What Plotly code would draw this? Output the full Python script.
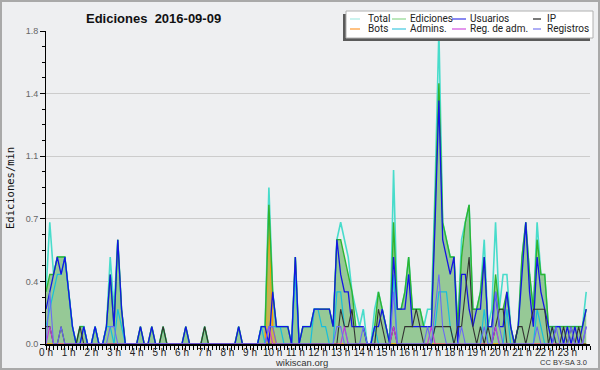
import plotly.graph_objects as go

# 10-minute slots over one day (minutes since 00:00)
minutes = list(range(0, 1440, 10))
hour_labels = [f"{h} h" for h in range(24)]
y_tick_values = [0, 0.36, 0.72, 1.08, 1.44, 1.8]
y_tick_labels = ["0.0", "0.4", "0.7", "1.1", "1.4", "1.8"]

total = [
    0.3, 0.7, 0.4, 0.5, 0.5, 0.5,
    0.3, 0.1, 0, 0.1, 0.1, 0,
    0, 0.1, 0, 0, 0.1, 0.5,
    0.2, 0.6, 0.2, 0, 0, 0,
    0, 0.1, 0, 0, 0.1, 0,
    0, 0.1, 0, 0, 0, 0,
    0, 0.1, 0, 0, 0, 0,
    0.1, 0, 0, 0, 0, 0,
    0, 0, 0, 0.1, 0, 0,
    0, 0, 0, 0.1, 0.1, 0.9,
    0.3, 0.1, 0.1, 0.1, 0.1, 0,
    0.5, 0, 0.1, 0.1, 0.1, 0.2,
    0.2, 0.2, 0.2, 0.2, 0.1, 0.6,
    0.7, 0.6, 0.5, 0.3, 0.2, 0.1,
    0.2, 0, 0, 0.2, 0.3, 0.2,
    0.1, 0, 1.0, 0.2, 0.2, 0.3,
    0.5, 0.2, 0.2, 0.2, 0.1, 0.2,
    0.2, 0.9, 1.8, 0.7, 0.6, 0.5,
    0.5, 0.1, 0.6, 0.7, 0.8, 0.2,
    0.2, 0.3, 0.6, 0.1, 0.2, 0.7,
    0.2, 0.4, 0.4, 0.1, 0, 0.1,
    0.5, 0.7, 0.4, 0.2, 0.7, 0.4,
    0.4, 0.1, 0.1, 0.1, 0.1, 0.1,
    0.1, 0.1, 0.1, 0.1, 0.1, 0.3,
]

ediciones = [
    0.3, 0.4, 0.4, 0.5, 0.5, 0.5,
    0.3, 0.1, 0, 0.1, 0.1, 0,
    0, 0.1, 0, 0, 0.1, 0.4,
    0.1, 0.6, 0.2, 0, 0, 0,
    0, 0.1, 0, 0, 0.1, 0,
    0, 0.1, 0, 0, 0, 0,
    0, 0.1, 0, 0, 0, 0,
    0.1, 0, 0, 0, 0, 0,
    0, 0, 0, 0.1, 0, 0,
    0, 0, 0, 0.1, 0.1, 0.8,
    0.3, 0.1, 0.1, 0.1, 0.1, 0,
    0.5, 0, 0.1, 0.1, 0.1, 0.2,
    0.2, 0.2, 0.2, 0.2, 0.1, 0.6,
    0.6, 0.5, 0.4, 0.3, 0.1, 0.1,
    0.1, 0, 0, 0.1, 0.3, 0.2,
    0.1, 0, 0.7, 0.2, 0.2, 0.3,
    0.5, 0.2, 0.2, 0.2, 0.1, 0.1,
    0.1, 0.8, 1.5, 0.7, 0.6, 0.5,
    0.5, 0.1, 0.5, 0.7, 0.8, 0.2,
    0.2, 0.3, 0.5, 0.1, 0.1, 0.4,
    0.2, 0.2, 0.3, 0.1, 0, 0.1,
    0.5, 0.7, 0.4, 0.2, 0.6, 0.4,
    0.4, 0.1, 0.1, 0.1, 0.1, 0.1,
    0.1, 0.1, 0.1, 0.1, 0.1, 0.2,
]

usuarios = [
    0.2, 0.3, 0.4, 0.5, 0.4, 0.5,
    0.3, 0.1, 0, 0, 0.1, 0,
    0, 0.1, 0, 0, 0.1, 0.4,
    0.1, 0.6, 0.2, 0, 0, 0,
    0, 0.1, 0, 0, 0.1, 0,
    0, 0, 0, 0, 0, 0,
    0, 0.1, 0, 0, 0, 0,
    0, 0, 0, 0, 0, 0,
    0, 0, 0, 0.1, 0, 0,
    0, 0, 0, 0.1, 0.1, 0,
    0.3, 0.1, 0.1, 0.1, 0.1, 0,
    0.5, 0, 0.1, 0.1, 0.1, 0.2,
    0.2, 0.2, 0.2, 0.2, 0.1, 0.6,
    0.4, 0.3, 0.3, 0.1, 0.1, 0.1,
    0.1, 0, 0, 0.1, 0.1, 0.2,
    0.1, 0, 0.5, 0.2, 0.2, 0.2,
    0.4, 0.1, 0.1, 0.1, 0.1, 0.1,
    0.1, 0.7, 1.4, 0.6, 0.5, 0.4,
    0.5, 0, 0.4, 0.4, 0.2, 0.1,
    0.2, 0.2, 0.5, 0.1, 0.1, 0.3,
    0.1, 0.1, 0.3, 0.1, 0, 0.1,
    0.4, 0.7, 0.3, 0.1, 0.5, 0.3,
    0.2, 0.1, 0, 0.1, 0.1, 0,
    0.1, 0, 0.1, 0, 0.1, 0.2,
]

ip = [
    0.1, 0.1, 0, 0, 0.1, 0,
    0, 0, 0, 0.1, 0, 0,
    0, 0, 0, 0, 0, 0,
    0, 0, 0, 0, 0, 0,
    0, 0, 0, 0, 0, 0,
    0, 0.1, 0, 0, 0, 0,
    0, 0, 0, 0, 0, 0,
    0.1, 0, 0, 0, 0, 0,
    0, 0, 0, 0, 0, 0,
    0, 0, 0, 0, 0, 0,
    0, 0, 0, 0, 0, 0,
    0, 0, 0, 0, 0, 0,
    0, 0, 0, 0, 0, 0,
    0.2, 0.1, 0.1, 0.2, 0, 0,
    0, 0, 0, 0, 0.2, 0.1,
    0, 0, 0.1, 0, 0, 0.1,
    0.1, 0.1, 0.2, 0.1, 0, 0,
    0, 0.1, 0.1, 0.1, 0.1, 0.1,
    0, 0.1, 0.1, 0.3, 0.5, 0.1,
    0, 0.1, 0, 0.1, 0, 0.1,
    0.2, 0.2, 0, 0, 0, 0.1,
    0.1, 0, 0.1, 0.2, 0.2, 0.2,
    0.2, 0, 0.1, 0, 0, 0.1,
    0, 0.1, 0, 0.1, 0, 0,
]

bots = [0] * 58 + [0, 0.8, 0.1] + [0] * 83

admins = [
    0.1, 0.2, 0.3, 0.4, 0.4, 0.5,
    0.3, 0.1, 0, 0, 0.1, 0,
    0, 0.1, 0, 0, 0.1, 0.1,
    0, 0.2, 0.1, 0, 0, 0,
    0, 0, 0, 0, 0, 0,
    0, 0, 0, 0, 0, 0,
    0, 0, 0, 0, 0, 0,
    0, 0, 0, 0, 0, 0,
    0, 0, 0, 0, 0, 0,
    0, 0, 0, 0.1, 0, 0.1,
    0.1, 0.1, 0.1, 0, 0, 0,
    0.4, 0, 0, 0, 0, 0.2,
    0.2, 0.1, 0.1, 0, 0, 0.3,
    0.3, 0.1, 0, 0, 0, 0,
    0, 0, 0, 0.1, 0, 0,
    0, 0, 0.4, 0, 0, 0,
    0, 0, 0, 0, 0, 0,
    0, 0.1, 0.3, 0.3, 0.3, 0.1,
    0, 0, 0, 0, 0, 0,
    0, 0, 0.2, 0, 0, 0.1,
    0, 0, 0.2, 0, 0, 0,
    0, 0, 0, 0, 0.2, 0.1,
    0, 0, 0.1, 0, 0, 0,
    0, 0, 0, 0, 0, 0.1,
]

reg_adm = [0] * 144
for _i in (1, 59, 79, 92, 102, 119, 143):
    reg_adm[_i] = 0.1

registros = [0] * 144
for _i, _v in ((1, 0.3), (4, 0.1), (17, 0.1), (18, 0.1), (59, 0.1), (60, 0.1),
               (77, 0.1), (78, 0.1), (84, 0.1), (92, 0.3), (101, 0.1), (103, 0.2),
               (104, 0.4), (105, 0.1), (110, 0.1), (116, 0.1), (119, 0.3), (120, 0.1),
               (130, 0.1), (135, 0.1), (139, 0.1), (143, 0.1)):
    registros[_i] = _v

x = [m / 60 for m in minutes]

C_TOTAL = "#48dccb"
C_ED = "#2fb42f"
C_USU = "#1414e6"
C_IP = "#333333"
C_BOTS = "#ff9a00"
C_ADM = "#18bedc"
C_REGADM = "#c838d8"
C_REG = "#6a6af4"

fig = go.Figure()
fig.add_trace(go.Scatter(x=x, y=ediciones, mode="lines", line=dict(width=0, color=C_ED),
                         fill="tozeroy", fillcolor="#96c996", hoverinfo="skip"))
fig.add_trace(go.Scatter(x=x, y=bots, mode="lines", line=dict(width=1.5, color=C_BOTS),
                         fill="tozeroy", fillcolor="rgba(255,154,0,0.45)", name="Bots"))
fig.add_trace(go.Scatter(x=x, y=total, mode="lines", line=dict(width=1.6, color=C_TOTAL), name="Total"))
fig.add_trace(go.Scatter(x=x, y=ediciones, mode="lines", line=dict(width=1.4, color=C_ED), name="Ediciones"))
fig.add_trace(go.Scatter(x=x, y=admins, mode="lines", line=dict(width=1.2, color=C_ADM), name="Admins."))
fig.add_trace(go.Scatter(x=x, y=usuarios, mode="lines", line=dict(width=1.3, color=C_USU), name="Usuarios"))
fig.add_trace(go.Scatter(x=x, y=ip, mode="lines", line=dict(width=1.1, color=C_IP), name="IP"))
fig.add_trace(go.Scatter(x=x, y=reg_adm, mode="lines", line=dict(width=1.1, color=C_REGADM), name="Reg. de adm."))
fig.add_trace(go.Scatter(x=x, y=registros, mode="lines", line=dict(width=1.1, color=C_REG), name="Registros"))

W, H = 600, 370
L, R, T, B = 46, 10, 31, 26
PW, PH = W - L - R, H - T - B


def px(xp):
    return (xp - L) / PW


def py(yp):
    return (H - B - yp) / PH


shapes = []
annotations = []

# outer border
shapes.append(dict(type="rect", xref="paper", yref="paper", x0=px(1), x1=px(599), y0=py(369), y1=py(1),
                   line=dict(color="#a9a9a9", width=2), fillcolor="rgba(0,0,0,0)", layer="above"))

# legend box with shadow
shapes.append(dict(type="rect", xref="paper", yref="paper", x0=px(343), x1=px(590), y0=py(41), y1=py(14),
                   line=dict(width=0), fillcolor="#5a5a5a", layer="above"))
shapes.append(dict(type="rect", xref="paper", yref="paper", x0=px(346), x1=px(593), y0=py(38), y1=py(11),
                   line=dict(color="#b0b0b0", width=1), fillcolor="#ffffff", layer="above"))

legend_items = [
    ("Total", "#a8ece4", 350, 360, 366, 19),
    ("Ediciones", "#8ed88e", 392, 406, 408, 19),
    ("Usuarios", "#3a3ae8", 452, 466, 468, 19),
    ("IP", "#222222", 533, 541, 545, 19),
    ("Bots", "#ff9a30", 350, 360, 366, 29),
    ("Admins.", "#40c8e0", 392, 406, 408, 29),
    ("Reg. de adm.", "#d050e0", 452, 466, 468, 29),
    ("Registros", "#7878f0", 533, 541, 545, 29),
]
for name, col, lx0, lx1, tx, ty in legend_items:
    shapes.append(dict(type="line", xref="paper", yref="paper", x0=px(lx0), x1=px(lx1), y0=py(ty), y1=py(ty),
                       line=dict(color=col, width=1.2), layer="above"))
    annotations.append(dict(text=name, xref="paper", yref="paper", x=px(tx), y=py(ty), xanchor="left",
                            yanchor="middle", showarrow=False,
                            font=dict(family="Roboto", size=10, color="#222222")))

annotations.append(dict(text="Ediciones\u00a0 2016-09-09", xref="paper", yref="paper", x=px(153), y=py(18),
                        xanchor="center", yanchor="middle", showarrow=False,
                        font=dict(family="Liberation Sans", size=13, color="#111111", weight="bold")))
annotations.append(dict(text="Ediciones/min", xref="paper", yref="paper", x=px(10), y=py(188),
                        xanchor="center", yanchor="middle", textangle=-90, showarrow=False,
                        font=dict(family="DejaVu Sans Mono", size=10.5, color="#111111")))
annotations.append(dict(text="wikiscan.org", xref="paper", yref="paper", x=px(301), y=py(362),
                        xanchor="center", yanchor="middle", showarrow=False,
                        font=dict(family="Liberation Sans", size=9.5, color="#333333")))
annotations.append(dict(text="CC BY-SA 3.0", xref="paper", yref="paper", x=px(589), y=py(362),
                        xanchor="right", yanchor="middle", showarrow=False,
                        font=dict(family="Liberation Sans", size=7.5, color="#333333")))

fig.update_layout(
    width=W, height=H,
    margin=dict(l=L, r=R, t=T, b=B, pad=0, autoexpand=False),
    paper_bgcolor="#eeeff1",
    plot_bgcolor="#eeeff1",
    showlegend=False,
    shapes=shapes,
    annotations=annotations,
    font=dict(family="Liberation Sans"),
)

fig.update_xaxes(
    range=[0, 24], tickmode="array", tickvals=list(range(24)), ticktext=hour_labels,
    ticks="outside", ticklen=4, tickwidth=1, tickcolor="#000000",
    showline=True, linecolor="#000000", linewidth=2, showgrid=False, zeroline=False,
    tickfont=dict(size=10, color="#222222", family="Liberation Sans"),
    ticklabelstandoff=-6,
    automargin=False,
    minor=dict(tickmode="array", tickvals=[m / 60 for m in range(0, 1450, 10)], ticks="outside",
               ticklen=4, tickcolor="#000000", tickwidth=1, showgrid=False),
    fixedrange=True,
)
fig.update_yaxes(
    range=[0, 1.8], tickmode="array", tickvals=y_tick_values, ticktext=y_tick_labels,
    ticks="outside", ticklen=5, tickwidth=1, tickcolor="#000000",
    showline=True, linecolor="#000000", linewidth=1, showgrid=True, gridcolor="#cccccc", gridwidth=1,
    zeroline=False,
    automargin=False,
    tickfont=dict(size=9, color="#666666", family="Liberation Sans"),
    minor=dict(tickmode="array", tickvals=[k * 0.09 for k in range(21)], ticks="outside",
               ticklen=3, tickcolor="#000000", tickwidth=1, showgrid=False),
    fixedrange=True,
)

fig.write_html(
    "out.html",
    config={"displayModeBar": False},
    post_script="document.body.style.margin='0';document.body.style.padding='0';",
)
